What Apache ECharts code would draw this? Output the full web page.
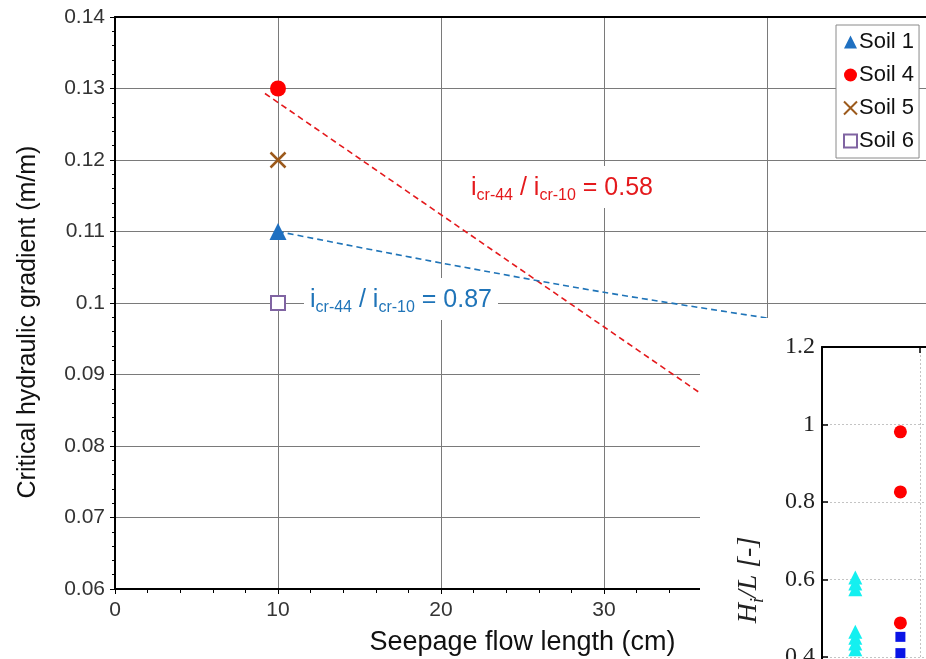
<!DOCTYPE html>
<html>
<head>
<meta charset="utf-8">
<script src="https://cdn.jsdelivr.net/npm/echarts@6/dist/echarts.min.js"></script>
<style>
html,body{margin:0;padding:0;background:#fff;}
#chart{width:926px;height:659px;}
</style>
</head>
<body>
<div id="chart"></div>
<script>
// ---- Main chart data ----
const seriesNames = ['Soil 1', 'Soil 4', 'Soil 5', 'Soil 6'];
const soil1 = [[10, 0.110]];
const soil4 = [[10, 0.130]];
const soil5 = [[10, 0.120]];
const soil6 = [[10, 0.100]];
const trendSoil4 = [[9.2, 0.1293], [35.9, 0.0874]];
const trendSoil1 = [[10, 0.110], [20, 0.1056], [30, 0.1015], [40, 0.0979]];
const ratioSoil4 = '0.58';
const ratioSoil1 = '0.87';
const xRange = [0, 50];
const yRange = [0.06, 0.14];

// ---- Inset chart data ----
const insetTriangles = [[0.34, 0.605], [0.34, 0.590], [0.34, 0.575], [0.34, 0.465], [0.34, 0.450], [0.34, 0.435], [0.34, 0.420]];
const insetCircles = [[0.80, 0.981], [0.80, 0.826], [0.80, 0.488]];
const insetSquares = [[0.80, 0.452], [0.80, 0.410]];
const insetYRange = [0, 1.2];
const insetXRange = [0, 4];

const chart = echarts.init(document.getElementById('chart'));
const SANS = 'Liberation Sans, Arial, sans-serif';
const SERIF = 'Liberation Serif, Times New Roman, serif';

function ratioText(a) {
  return '{i|i}{s|cr-44}{i| / i}{s|cr-10}{i| = ' + a + '}';
}
function richFor(color) {
  return {
    i: {fill: color, fontSize: 25, fontFamily: SANS, lineHeight: 32, verticalAlign: 'middle'},
    s: {fill: color, fontSize: 16, fontFamily: SANS, lineHeight: 16, verticalAlign: 'bottom'}
  };
}

const option = {
  animation: false,
  backgroundColor: '#fff',
  grid: [
    {left: 115, top: 17, width: 815, height: 572, containLabel: false, outerBoundsMode: 'none'},
    {left: 822, top: 347, width: 392, height: 465, containLabel: false, outerBoundsMode: 'none'}
  ],
  xAxis: [
    {
      gridIndex: 0, type: 'value', min: xRange[0], max: xRange[1], interval: 10,
      position: 'bottom', z: 0,
      axisLine: {show: true, onZero: false, lineStyle: {color: '#000', width: 2}},
      axisTick: {show: true, inside: false, length: 5, lineStyle: {color: '#000'}},
      minorTick: {show: true, splitNumber: 5, length: 4, lineStyle: {color: '#000'}},
      axisLabel: {fontSize: 21, fontFamily: SANS, color: '#333', margin: 11},
      splitLine: {show: true, lineStyle: {color: '#7a7a7a', width: 1}},
      name: 'Seepage flow length (cm)', nameLocation: 'middle', nameGap: 40,
      nameTextStyle: {fontSize: 27, fontFamily: SANS, color: '#111'}
    },
    {
      gridIndex: 0, type: 'value', min: xRange[0], max: xRange[1], position: 'top', z: 0,
      axisLine: {show: true, onZero: false, lineStyle: {color: '#000', width: 2}},
      axisTick: {show: false}, axisLabel: {show: false}, splitLine: {show: false}
    },
    {
      gridIndex: 1, type: 'value', min: insetXRange[0], max: insetXRange[1], interval: 1,
      position: 'bottom', z: 20,
      axisLine: {show: true, onZero: false, lineStyle: {color: '#000', width: 2}},
      axisTick: {show: false}, axisLabel: {show: false},
      splitLine: {show: true, lineStyle: {color: '#c4c4c4', width: 1, type: [2, 2]}}
    },
    {
      gridIndex: 1, type: 'value', min: insetXRange[0], max: insetXRange[1], interval: 1,
      position: 'top', z: 20,
      axisLine: {show: true, onZero: false, lineStyle: {color: '#000', width: 2}},
      axisTick: {show: true, inside: true, length: 6, lineStyle: {color: '#000', width: 1.5}},
      axisLabel: {show: false}, splitLine: {show: false}
    }
  ],
  yAxis: [
    {
      gridIndex: 0, type: 'value', min: yRange[0], max: yRange[1], interval: 0.01, z: 0,
      axisLine: {show: true, onZero: false, lineStyle: {color: '#000', width: 2}},
      axisTick: {show: true, inside: false, length: 5, lineStyle: {color: '#000'}},
      minorTick: {show: true, splitNumber: 5, length: 3, lineStyle: {color: '#000'}},
      axisLabel: {fontSize: 21, fontFamily: SANS, color: '#333', margin: 10,
        formatter: v => String(parseFloat(v.toFixed(3)))},
      splitLine: {show: true, lineStyle: {color: '#7a7a7a', width: 1}}
    },
    {
      gridIndex: 1, type: 'value', min: insetYRange[0], max: insetYRange[1], interval: 0.2, z: 20,
      axisLine: {show: true, onZero: false, lineStyle: {color: '#000', width: 2}},
      axisTick: {show: true, inside: true, length: 6, lineStyle: {color: '#000', width: 1.5}},
      axisLabel: {fontSize: 24, fontFamily: SERIF, color: '#222', margin: 7,
        formatter: v => String(parseFloat(v.toFixed(2)))},
      splitLine: {show: true, lineStyle: {color: '#c4c4c4', width: 1, type: [2, 2]}}
    }
  ],
  legend: {
    data: seriesNames,
    orient: 'vertical', left: 836, top: 25,
    padding: [6, 5, 6, 7], itemGap: 11, itemWidth: 13, itemHeight: 13,
    backgroundColor: '#fff', borderColor: '#8a8a8a', borderWidth: 1,
    textStyle: {fontSize: 22, fontFamily: SANS, color: '#111', padding: [0, 0, 0, -3]}
  },
  graphic: [
    {type: 'rect', z: 10, shape: {x: 700, y: 318, width: 240, height: 360}, style: {fill: '#fff'}},
    {type: 'text', z: 5, x: 465, y: 187,
      style: {text: ratioText(ratioSoil4), rich: richFor('#e4191c'), verticalAlign: 'middle', align: 'left',
        backgroundColor: '#fff', padding: [6, 6, 4, 6]}},
    {type: 'text', z: 5, x: 304, y: 299,
      style: {text: ratioText(ratioSoil1), rich: richFor('#1f74b8'), verticalAlign: 'middle', align: 'left',
        backgroundColor: '#fff', padding: [6, 6, 4, 6]}},
    {type: 'text', z: 5, x: 28, y: 322, rotation: Math.PI / 2,
      style: {text: 'Critical hydraulic gradient (m/m)', fill: '#111', fontSize: 25, fontFamily: SANS,
        align: 'center', verticalAlign: 'middle'}},
    {type: 'text', z: 40, x: 749, y: 580, rotation: Math.PI / 2,
      style: {text: '{a|H}{s|i}{a|/L [-]}', align: 'center', verticalAlign: 'middle',
        rich: {
          a: {fill: '#222', fontSize: 28, fontFamily: SERIF, fontStyle: 'italic', lineHeight: 36, verticalAlign: 'middle'},
          s: {fill: '#222', fontSize: 18, fontFamily: SERIF, fontStyle: 'italic', lineHeight: 18, verticalAlign: 'bottom'}
        }}}
  ],
  series: [
    {name: 'trend4', type: 'line', xAxisIndex: 0, yAxisIndex: 0, data: trendSoil4, showSymbol: false,
      symbol: 'none', lineStyle: {color: '#e4191c', width: 1.6, type: [6, 4]}, z: 2, silent: true},
    {name: 'trend1', type: 'line', xAxisIndex: 0, yAxisIndex: 0, data: trendSoil1, showSymbol: false,
      symbol: 'none', smooth: 0.3, lineStyle: {color: '#1f74b8', width: 1.6, type: [6, 4]}, z: 2, silent: true},
    {name: 'Soil 1', type: 'scatter', xAxisIndex: 0, yAxisIndex: 0, data: soil1, symbol: 'triangle', symbolSize: 17,
      itemStyle: {color: '#1f70c1', opacity: 1}, z: 3},
    {name: 'Soil 4', type: 'scatter', xAxisIndex: 0, yAxisIndex: 0, data: soil4, symbol: 'circle', symbolSize: 16,
      itemStyle: {color: '#ff0000', opacity: 1}, z: 3},
    {name: 'Soil 5', type: 'scatter', xAxisIndex: 0, yAxisIndex: 0, data: soil5,
      symbol: 'path://M0,0L10,10M10,0L0,10', symbolSize: 15, symbolKeepAspect: true,
      itemStyle: {color: '#9c5a1c', borderColor: '#9c5a1c', borderWidth: 2.5, opacity: 1}, z: 3},
    {name: 'Soil 6', type: 'scatter', xAxisIndex: 0, yAxisIndex: 0, data: soil6, symbol: 'rect', symbolSize: 14,
      itemStyle: {color: '#fff', borderColor: '#8064a2', borderWidth: 2, opacity: 1}, z: 3},
    {name: 'insetTri', type: 'scatter', xAxisIndex: 2, yAxisIndex: 1, data: insetTriangles, symbol: 'triangle',
      symbolSize: 14, itemStyle: {color: '#14f0f0', opacity: 1}, z: 30},
    {name: 'insetCircle', type: 'scatter', xAxisIndex: 2, yAxisIndex: 1, data: insetCircles, symbol: 'circle',
      symbolSize: 13, itemStyle: {color: '#ff0000', opacity: 1}, z: 30},
    {name: 'insetSquare', type: 'scatter', xAxisIndex: 2, yAxisIndex: 1, data: insetSquares, symbol: 'rect',
      symbolSize: 10, itemStyle: {color: '#0a14e6', opacity: 1}, z: 30}
  ]
};
chart.setOption(option);
</script>
</body>
</html>
